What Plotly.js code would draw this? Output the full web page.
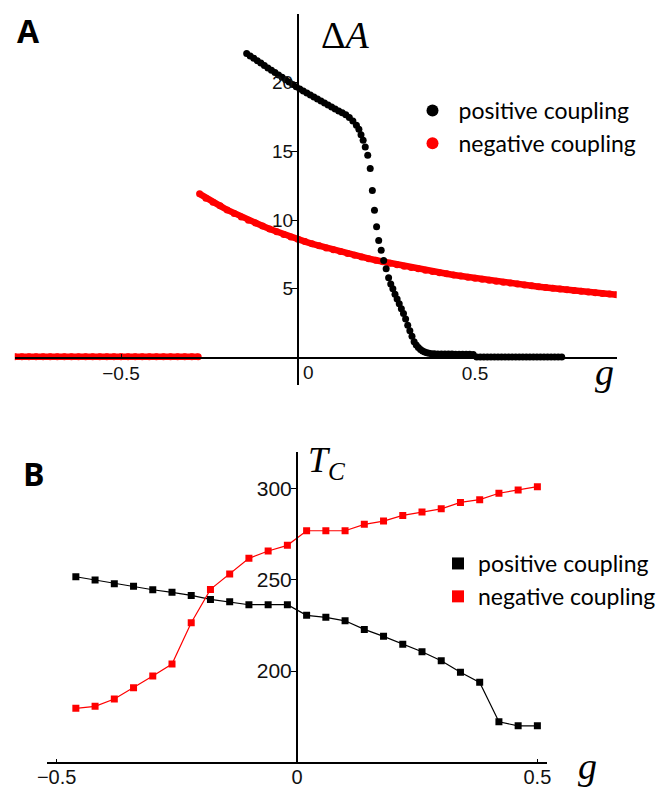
<!DOCTYPE html>
<html>
<head>
<meta charset="utf-8">
<script src="https://cdn.plot.ly/plotly-3.0.1.min.js"></script>
<style>html,body{margin:0;padding:0;background:#fff;}</style>
</head>
<body>
<div id="chart" style="width:664px;height:790px;"></div>
<script>
// ---------- Panel A: ΔA vs g ----------
const gA_pos = [-0.145,-0.135,-0.125,-0.115,-0.105,-0.095,-0.085,-0.075,-0.065,-0.055,-0.045,-0.035,-0.025,-0.015,-0.005,
  0.005,0.015,0.025,0.035,0.045,0.055,0.065,0.075,0.085,0.095,0.105,0.115,0.125,0.135,0.145,0.155,0.165,0.172,0.178,
  0.184,0.19,0.197,0.204,0.21,0.216,0.222,0.228,0.235,0.242,0.249,0.256,
  0.262,0.268,0.274,0.28,0.286,0.292,0.298,0.304,0.31,0.316,0.322,0.328,0.334,0.34,0.346,0.352,0.358,0.364,0.37,0.377,
  0.385,0.395,0.405,0.415,0.425,0.435,0.445,0.455,0.465,0.475,0.485,0.495,
  0.505,0.515,0.525,0.535,0.545,0.555,0.565,0.575,0.585,0.595,0.605,0.615,0.625,0.635,0.645,0.655,0.665,0.675,0.685,0.695,0.705,0.715,0.725,0.735,0.745];
const dA_pos = [22.1,21.93,21.76,21.58,21.41,21.24,21.06,20.89,20.72,20.55,20.38,20.2,20.03,19.86,19.69,
  19.53,19.38,19.24,19.09,18.94,18.8,18.65,18.5,18.36,18.21,18.07,17.93,17.8,17.65,17.45,17.2,16.9,16.6,16.2,
  15.8,15.3,14.7,13.75,12.15,10.7,9.5,8.5,7.8,7.06,6.45,5.8,
  5.35,5.0,4.6,4.25,3.9,3.55,3.2,2.8,2.35,1.95,1.55,1.15,0.9,0.72,0.58,0.47,0.4,0.34,0.3,0.28,
  0.27,0.26,0.26,0.25,0.25,0.25,0.24,0.24,0.24,0.23,0.23,0.22,
  0.03,0.03,0.03,0.03,0.03,0.03,0.03,0.03,0.03,0.03,0.03,0.03,0.03,0.03,0.03,0.03,0.03,0.03,0.03,0.03,0.03,0.03,0.03,0.03,0.03];

const gA_negLow = [-0.8,-0.78,-0.76,-0.74,-0.72,-0.7,-0.68,-0.66,-0.64,-0.62,-0.6,-0.58,-0.56,-0.54,-0.52,-0.5,
  -0.48,-0.46,-0.44,-0.42,-0.4,-0.38,-0.36,-0.34,-0.32,-0.3,-0.282];
const dA_negLow = [0.05,0.05,0.05,0.05,0.05,0.05,0.05,0.05,0.05,0.05,0.05,0.05,0.05,0.05,0.05,0.05,
  0.05,0.05,0.05,0.05,0.05,0.05,0.05,0.05,0.05,0.05,0.05];

const gA_neg = [-0.278,-0.26,-0.24,-0.22,-0.2,-0.18,-0.16,-0.14,-0.12,-0.1,-0.08,-0.06,-0.04,-0.02,0,
  0.02,0.04,0.06,0.08,0.1,0.12,0.14,0.16,0.18,0.2,0.22,0.24,0.26,0.28,0.3,0.32,0.34,0.36,0.38,0.4,
  0.42,0.44,0.46,0.48,0.5,0.52,0.54,0.56,0.58,0.6,0.62,0.64,0.66,0.68,0.7,0.72,0.74,0.76,0.78,0.8,0.82,0.84,0.86,0.88,0.9];
const dA_neg = [11.9,11.59,11.29,11.03,10.73,10.47,10.22,9.99,9.78,9.56,9.34,9.14,8.95,8.77,8.6,
  8.43,8.27,8.12,7.97,7.83,7.7,7.56,7.43,7.31,7.19,7.07,6.96,6.85,6.75,6.64,6.54,6.45,6.35,6.26,6.17,
  6.09,6.0,5.92,5.84,5.76,5.69,5.61,5.54,5.47,5.41,5.34,5.28,5.21,5.15,5.09,5.03,4.98,4.92,4.87,4.81,4.76,4.71,4.66,4.61,4.56];

// ---------- Panel B: Tc vs g ----------
const gB = [-0.46,-0.42,-0.38,-0.34,-0.30,-0.26,-0.22,-0.18,-0.14,-0.10,-0.06,-0.02,
  0.02,0.06,0.10,0.14,0.18,0.22,0.26,0.30,0.34,0.38,0.42,0.46,0.50];
const tcPos = [251.6,249.8,247.8,246.4,244.5,243.1,241.4,239.2,237.9,236.3,236.3,236.3,
  230.5,229.4,227.5,222.8,219.0,214.6,210.6,205.6,199.3,193.8,172.2,170.0,170.0];
const tcNeg = [179.6,180.7,184.7,190.9,197.3,203.8,226.4,244.7,253.1,261.7,265.7,268.8,
  276.8,276.8,276.8,280.3,282.1,285.2,287.0,288.8,292.3,293.8,297.3,299.1,300.9];

const seriesNames = ['positive coupling', 'negative coupling'];
const tickA_y = [5, 10, 15, 20];
const tickA_x = [-0.5, 0.5];
const tickA_xText = ['\u22120.5', '0.5'];
const tickB_y = [200, 250, 300];
const tickB_x = [-0.5, 0, 0.5];
const tickB_xText = ['\u22120.5', '0', '0.5'];

const W = 664, H = 790;
const RED = '#ff0000';
const px = v => v / W;
const py = v => 1 - v / H;

const traces = [
  {x: gA_negLow, y: dA_negLow, xaxis: 'x', yaxis: 'y', mode: 'lines+markers',
   line: {color: RED, width: 6.5}, marker: {color: RED, size: 7}, showlegend: false, hoverinfo: 'skip'},
  {x: gA_neg, y: dA_neg, xaxis: 'x', yaxis: 'y', mode: 'lines',
   line: {color: RED, width: 6.5}, showlegend: false, hoverinfo: 'skip'},
  {x: gA_neg, y: dA_neg, xaxis: 'x', yaxis: 'y', mode: 'markers', name: seriesNames[1],
   marker: {color: RED, size: 7}, legend: 'legend', legendrank: 2},
  {x: gA_pos, y: dA_pos, xaxis: 'x', yaxis: 'y', mode: 'markers', name: seriesNames[0],
   marker: {color: '#000', size: 7}, legend: 'legend', legendrank: 1},

  {x: gB, y: tcPos, xaxis: 'x2', yaxis: 'y2', mode: 'lines', line: {color: '#000', width: 1.2},
   showlegend: false, hoverinfo: 'skip'},
  {x: gB, y: tcPos, xaxis: 'x2', yaxis: 'y2', mode: 'markers', name: seriesNames[0],
   marker: {color: '#000', size: 7, symbol: 'square'}, legend: 'legend2', legendrank: 1},
  {x: gB, y: tcNeg, xaxis: 'x2', yaxis: 'y2', mode: 'lines', line: {color: RED, width: 1.2},
   showlegend: false, hoverinfo: 'skip'},
  {x: gB, y: tcNeg, xaxis: 'x2', yaxis: 'y2', mode: 'markers', name: seriesNames[1],
   marker: {color: RED, size: 7, symbol: 'square'}, legend: 'legend2', legendrank: 2}
];

const tickFont = {family: 'Liberation Sans, Arial, sans-serif', size: 19, color: '#111'};
const tickFontB = {family: 'Liberation Sans, Arial, sans-serif', size: 21, color: '#111'};
const tickFontBx = {family: 'Liberation Sans, Arial, sans-serif', size: 20, color: '#111'};
const legFont = {family: 'Lato, Open Sans, sans-serif', size: 23, color: '#000'};
const serif = 'Liberation Serif, Times New Roman, serif';

const layout = {
  width: W, height: H,
  margin: {l: 0, r: 0, t: 0, b: 0},
  paper_bgcolor: '#fff', plot_bgcolor: 'rgba(0,0,0,0)',
  showlegend: true,
  xaxis: {domain: [px(14.8), px(616.6)], range: [-0.8, 0.9], anchor: 'free', position: py(357.5),
          showline: true, linecolor: '#000', linewidth: 2, showgrid: false, zeroline: false,
          tickmode: 'array', tickvals: tickA_x, ticktext: tickA_xText, ticks: 'inside', ticklen: 3,
          tickcolor: '#000', tickfont: tickFont, ticklabelstandoff: -1, fixedrange: true},
  yaxis: {domain: [py(385), py(13.75)], range: [-2, 25], anchor: 'free', position: px(298),
          showline: true, linecolor: '#000', linewidth: 2, showgrid: false, zeroline: false,
          tickmode: 'array', tickvals: tickA_y, ticks: 'outside', ticklen: 6,
          tickcolor: '#000', tickfont: tickFont, ticklabelstandoff: -6, fixedrange: true},
  xaxis2: {domain: [px(47), px(547)], range: [-0.52, 0.52], anchor: 'y2',
          showline: true, linecolor: '#000', linewidth: 2, showgrid: false, zeroline: false,
          tickmode: 'array', tickvals: tickB_x, ticktext: tickB_xText, ticks: 'inside', ticklen: 3,
          tickcolor: '#000', tickfont: tickFontBx, ticklabelstandoff: -4, fixedrange: true},
  yaxis2: {domain: [py(762.4), py(451.8)], range: [150, 320], anchor: 'free', position: px(297),
          showline: true, linecolor: '#000', linewidth: 2, showgrid: false, zeroline: false,
          tickmode: 'array', tickvals: tickB_y, ticks: 'outside', ticklen: 5,
          tickcolor: '#000', tickfont: tickFontB, ticklabelstandoff: -5, fixedrange: true},
  legend: {x: px(406.5), y: py(89), xanchor: 'left', yanchor: 'top', font: legFont,
           bgcolor: 'rgba(0,0,0,0)', borderwidth: 0, itemwidth: 42, itemsizing: 'constant'},
  legend2: {x: px(438), y: py(542), xanchor: 'left', yanchor: 'top', font: legFont,
           bgcolor: 'rgba(0,0,0,0)', borderwidth: 0, itemwidth: 30, itemsizing: 'constant'},
  annotations: [
    {text: '<b>A</b>', x: px(28.5), y: py(31), xref: 'paper', yref: 'paper', showarrow: false,
     xanchor: 'center', yanchor: 'middle', font: {family: 'Open Sans, sans-serif', size: 32, color: '#000'}},
    {text: '<b>B</b>', x: px(34), y: py(473), xref: 'paper', yref: 'paper', showarrow: false,
     xanchor: 'center', yanchor: 'middle', font: {family: 'Open Sans, sans-serif', size: 32, color: '#000'}},
    {text: '\u0394<i>A</i>', x: px(344.5), y: py(35), xref: 'paper', yref: 'paper', showarrow: false,
     xanchor: 'center', yanchor: 'middle', font: {family: serif, size: 38, color: '#000'}},
    {text: '<i>g</i>', x: px(604), y: py(372), xref: 'paper', yref: 'paper', showarrow: false,
     xanchor: 'center', yanchor: 'middle', font: {family: serif, size: 38, color: '#000'}},
    {text: '0', x: px(308), y: py(372), xref: 'paper', yref: 'paper', showarrow: false,
     xanchor: 'center', yanchor: 'middle', font: tickFont},
    {text: '<i>T</i><sub><i>C</i></sub>', x: px(327), y: py(462), xref: 'paper', yref: 'paper', showarrow: false,
     xanchor: 'center', yanchor: 'middle', font: {family: serif, size: 36, color: '#000'}},
    {text: '<i>g</i>', x: px(587), y: py(766), xref: 'paper', yref: 'paper', showarrow: false,
     xanchor: 'center', yanchor: 'middle', font: {family: serif, size: 38, color: '#000'}}
  ]
};

Plotly.newPlot('chart', traces, layout, {displayModeBar: false, staticPlot: true});
</script>
</body>
</html>
